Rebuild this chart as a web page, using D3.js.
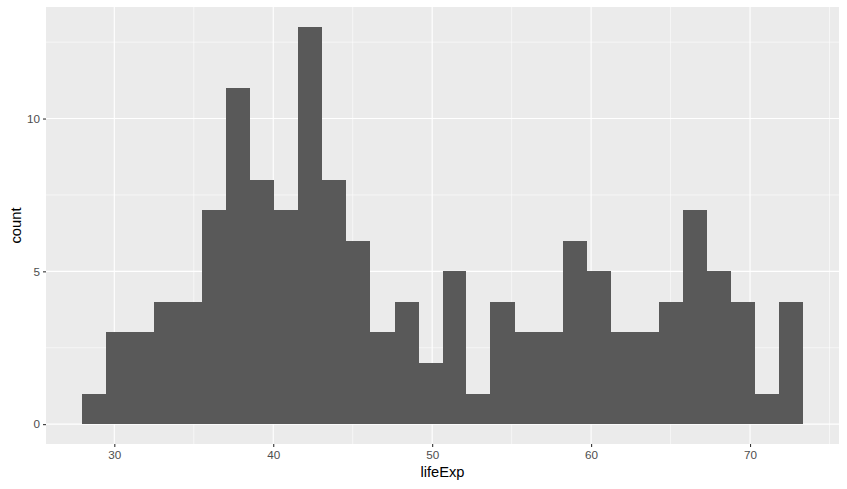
<!DOCTYPE html>
<html>
<head>
<meta charset="utf-8">
<script src="https://cdn.jsdelivr.net/npm/d3@7/dist/d3.min.js"></script>
<style>
  html, body { margin: 0; padding: 0; background: #ffffff; }
  svg { display: block; }
  text { font-family: "Liberation Sans", Arial, sans-serif; }
</style>
</head>
<body>
<svg id="chart" width="847" height="489"></svg>
<script>
// ---- data ----
const binEdges = [27.97, 29.48, 30.99, 32.51, 34.02, 35.53, 37.04, 38.55, 40.07, 41.58,
                  43.09, 44.60, 46.11, 47.63, 49.14, 50.65, 52.16, 53.67, 55.19, 56.70,
                  58.21, 59.72, 61.23, 62.75, 64.26, 65.77, 67.28, 68.79, 70.31, 71.82, 73.33];
const counts = [1, 3, 3, 4, 4, 7, 11, 8, 7, 13, 8, 6, 3, 4, 2, 5, 1, 4, 3, 3,
                6, 5, 3, 3, 4, 7, 5, 4, 1, 4];
const xTicks = [30, 40, 50, 60, 70];
const xMinorTicks = [25, 35, 45, 55, 65, 75];
const yTicks = [0, 5, 10];
const yMinorTicks = [2.5, 7.5, 12.5];
const xLabel = "lifeExp";
const yLabel = "count";

const bins = counts.map((c, i) => ({ x0: binEdges[i], x1: binEdges[i + 1], count: c }));

// ---- layout ----
const W = 847, H = 489;
const panel = { left: 46, right: 839, top: 7, bottom: 444 };

const xMin = d3.min(binEdges), xMax = d3.max(binEdges);
const xPad = (xMax - xMin) * 0.05;
const yMax = d3.max(counts);
const yPad = yMax * 0.05;

const x = d3.scaleLinear().domain([xMin - xPad, xMax + xPad]).range([panel.left, panel.right]);
const y = d3.scaleLinear().domain([0 - yPad, yMax + yPad]).range([panel.bottom, panel.top]);

const svg = d3.select("#chart");

// panel background
svg.append("rect")
  .attr("x", panel.left).attr("y", panel.top)
  .attr("width", panel.right - panel.left).attr("height", panel.bottom - panel.top)
  .attr("fill", "#EBEBEB");

const grid = svg.append("g");
const [dx0, dx1] = x.domain(), [dy0, dy1] = y.domain();

// minor gridlines
grid.selectAll(".xminor").data(xMinorTicks.filter(t => t >= dx0 && t <= dx1)).enter()
  .append("line")
  .attr("x1", d => x(d)).attr("x2", d => x(d))
  .attr("y1", panel.top).attr("y2", panel.bottom)
  .attr("stroke", "#ffffff").attr("stroke-width", 0.55);
grid.selectAll(".yminor").data(yMinorTicks.filter(t => t >= dy0 && t <= dy1)).enter()
  .append("line")
  .attr("x1", panel.left).attr("x2", panel.right)
  .attr("y1", d => y(d)).attr("y2", d => y(d))
  .attr("stroke", "#ffffff").attr("stroke-width", 0.55);
// major gridlines
grid.selectAll(".xmajor").data(xTicks).enter()
  .append("line")
  .attr("x1", d => x(d)).attr("x2", d => x(d))
  .attr("y1", panel.top).attr("y2", panel.bottom)
  .attr("stroke", "#ffffff").attr("stroke-width", 1.1);
grid.selectAll(".ymajor").data(yTicks).enter()
  .append("line")
  .attr("x1", panel.left).attr("x2", panel.right)
  .attr("y1", d => y(d)).attr("y2", d => y(d))
  .attr("stroke", "#ffffff").attr("stroke-width", 1.1);

// bars
svg.append("g").selectAll("rect").data(bins).enter()
  .append("rect")
  .attr("x", d => x(d.x0))
  .attr("width", d => x(d.x1) - x(d.x0))
  .attr("y", d => y(d.count))
  .attr("height", d => y(0) - y(d.count))
  .attr("fill", "#595959")
  .attr("shape-rendering", "crispEdges");

// axes
const xAxis = d3.axisBottom(x).tickValues(xTicks).tickSize(3).tickPadding(4).tickFormat(d3.format("d"));
const yAxis = d3.axisLeft(y).tickValues(yTicks).tickSize(3).tickPadding(3).tickFormat(d3.format("d"));

const gx = svg.append("g").attr("transform", `translate(0,${panel.bottom})`).call(xAxis);
const gy = svg.append("g").attr("transform", `translate(${panel.left},0)`).call(yAxis);
[gx, gy].forEach(g => {
  g.select(".domain").remove();
  g.selectAll(".tick line").attr("stroke", "#333333").attr("stroke-width", 1.1);
  g.selectAll(".tick text")
    .attr("fill", "#4D4D4D")
    .style("font-size", "11.7px")
    .style("font-family", "'Liberation Sans', Arial, sans-serif");
});

// axis titles
svg.append("text")
  .attr("x", (panel.left + panel.right) / 2)
  .attr("y", 477)
  .attr("text-anchor", "middle")
  .attr("fill", "#000000")
  .style("font-size", "14.7px")
  .text(xLabel);

svg.append("text")
  .attr("transform", `translate(21,${(panel.top + panel.bottom) / 2}) rotate(-90)`)
  .attr("text-anchor", "middle")
  .attr("fill", "#000000")
  .style("font-size", "14.7px")
  .text(yLabel);
</script>
</body>
</html>
